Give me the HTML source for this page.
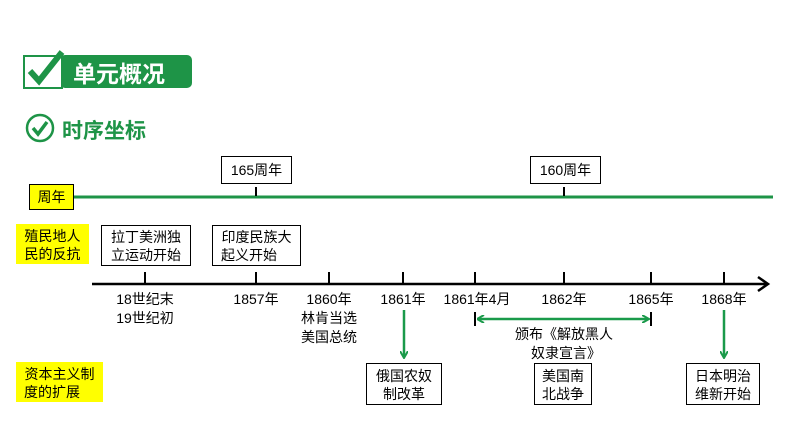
<!DOCTYPE html>
<html><head><meta charset="utf-8"><style>
html,body{margin:0;padding:0;background:#fff;}
svg{display:block;}
text{font-family:"Liberation Sans","Noto Sans CJK SC",sans-serif;font-size:14px;fill:#000;}
</style></head><body>
<svg width="794" height="447" viewBox="0 0 794 447" xmlns="http://www.w3.org/2000/svg">
<defs>
<marker id="ag" markerWidth="8" markerHeight="8" refX="6" refY="4" orient="auto" markerUnits="userSpaceOnUse"><path d="M0,0 L7,4 L0,8" fill="none" stroke="#1a9a4a" stroke-width="2"/></marker>
<marker id="ags" markerWidth="8" markerHeight="8" refX="1" refY="4" orient="auto" markerUnits="userSpaceOnUse"><path d="M7,0 L0,4 L7,8" fill="none" stroke="#1a9a4a" stroke-width="2"/></marker>
</defs>
<rect x="60" y="55" width="132" height="33" rx="5" fill="#1e9447"/>
<rect x="24" y="56" width="38" height="32" fill="#fff" stroke="#1e9447" stroke-width="2"/>
<path d="M30,71 L39,81 L62,52" fill="none" stroke="#1e9447" stroke-width="6"/>
<text x="73" y="82" style="font-size:23px;font-weight:bold;fill:#fff">单元概况</text>
<circle cx="40" cy="128" r="13" fill="none" stroke="#1e9447" stroke-width="2.5"/>
<path d="M33,128 L38,134 L47,122" fill="none" stroke="#1e9447" stroke-width="3.5"/>
<text x="62" y="138" style="font-size:21px;font-weight:bold;fill:#1e9447">时序坐标</text>
<line x1="74" y1="197" x2="773" y2="197" stroke="#1e9447" stroke-width="3"/>
<rect x="29.5" y="184.5" width="44" height="25" fill="#ffff00" stroke="#000"/>
<text x="51.5" y="202" text-anchor="middle">周年</text>
<rect x="221.5" y="156.5" width="70" height="27" fill="#fff" stroke="#000"/>
<text x="256.5" y="175" text-anchor="middle">165周年</text>
<line x1="256" y1="187" x2="256" y2="196" stroke="#000" stroke-width="2"/>
<rect x="530.5" y="156.5" width="70" height="27" fill="#fff" stroke="#000"/>
<text x="565.5" y="175" text-anchor="middle">160周年</text>
<line x1="564" y1="187" x2="564" y2="196" stroke="#000" stroke-width="2"/>
<rect x="16" y="224" width="73" height="40" fill="#ffff00"/>
<text x="52.5" y="241" text-anchor="middle">殖民地人</text>
<text x="52.5" y="259" text-anchor="middle">民的反抗</text>
<rect x="101.5" y="225.5" width="89" height="40" fill="#fff" stroke="#000"/>
<text x="146" y="242" text-anchor="middle">拉丁美洲独</text>
<text x="146" y="260" text-anchor="middle">立运动开始</text>
<rect x="212.5" y="225.5" width="88" height="40" fill="#fff" stroke="#000"/>
<text x="256.5" y="242" text-anchor="middle">印度民族大</text>
<text x="249" y="260" text-anchor="middle">起义开始</text>
<line x1="92" y1="284" x2="766" y2="284" stroke="#000" stroke-width="2.5"/>
<path d="M758,277 L768,284 L758,291" fill="none" stroke="#000" stroke-width="2.5"/>
<g stroke="#000" stroke-width="2">
<line x1="145" y1="272" x2="145" y2="284"/>
<line x1="256" y1="272" x2="256" y2="284"/>
<line x1="329" y1="272" x2="329" y2="284"/>
<line x1="403" y1="272" x2="403" y2="284"/>
<line x1="475" y1="272" x2="475" y2="284"/>
<line x1="564" y1="272" x2="564" y2="284"/>
<line x1="651" y1="272" x2="651" y2="284"/>
<line x1="724" y1="272" x2="724" y2="284"/>
</g>
<g text-anchor="middle">
<text x="145" y="304">18世纪末</text>
<text x="145" y="323">19世纪初</text>
<text x="256" y="304">1857年</text>
<text x="329" y="304">1860年</text>
<text x="329" y="323">林肯当选</text>
<text x="329" y="342">美国总统</text>
<text x="403" y="304">1861年</text>
<text x="477" y="304">1861年4月</text>
<text x="564" y="304">1862年</text>
<text x="651" y="304">1865年</text>
<text x="724" y="304">1868年</text>
<text x="564" y="339">颁布《解放黑人</text>
<text x="566" y="358">奴隶宣言》</text>
</g>
<line x1="475" y1="312" x2="475" y2="326" stroke="#000" stroke-width="2"/>
<line x1="651" y1="312" x2="651" y2="326" stroke="#000" stroke-width="2"/>
<line x1="478" y1="319" x2="648" y2="319" stroke="#1a9a4a" stroke-width="2.5" marker-start="url(#ags)" marker-end="url(#ag)"/>
<line x1="404" y1="310" x2="404" y2="357" stroke="#1a9a4a" stroke-width="2.5" marker-end="url(#ag)"/>
<line x1="724" y1="310" x2="724" y2="357" stroke="#1a9a4a" stroke-width="2.5" marker-end="url(#ag)"/>
<rect x="16" y="362" width="87" height="40" fill="#ffff00"/>
<text x="59.5" y="379" text-anchor="middle">资本主义制</text>
<text x="52" y="397" text-anchor="middle">度的扩展</text>
<rect x="366.5" y="363.5" width="75" height="41" fill="#fff" stroke="#000"/>
<text x="404" y="381" text-anchor="middle">俄国农奴</text>
<text x="404" y="399" text-anchor="middle">制改革</text>
<rect x="534.5" y="363.5" width="57" height="41" fill="#fff" stroke="#000"/>
<text x="563" y="381" text-anchor="middle">美国南</text>
<text x="563" y="399" text-anchor="middle">北战争</text>
<rect x="686.5" y="363.5" width="73" height="41" fill="#fff" stroke="#000"/>
<text x="723" y="381" text-anchor="middle">日本明治</text>
<text x="723" y="399" text-anchor="middle">维新开始</text>
</svg>
</body></html>
